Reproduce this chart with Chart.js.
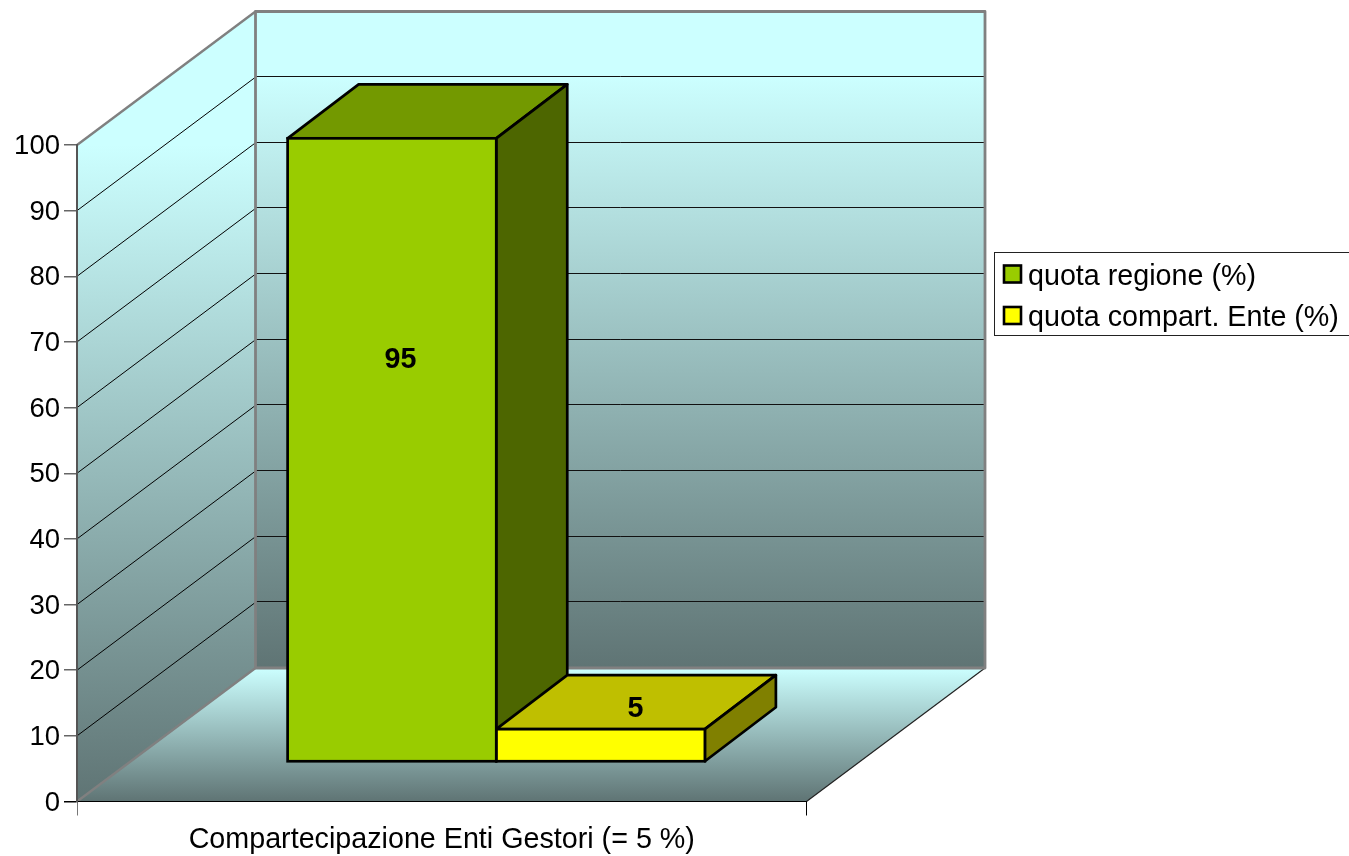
<!DOCTYPE html>
<html>
<head>
<meta charset="utf-8">
<title>Compartecipazione Enti Gestori</title>
<style>
html, body { margin: 0; padding: 0; background: #fff; overflow: hidden; }
canvas { display: block; }
</style>
<script src="https://cdn.jsdelivr.net/npm/chart.js@4/dist/chart.umd.min.js"></script>
</head>
<body>
<canvas id="mainChart" width="1349" height="856"></canvas>
<script>
var categories = ['Compartecipazione Enti Gestori (= 5 %)'];
var seriesNames = ['quota regione (%)', 'quota compart. Ente (%)'];
var quotaRegione = [95];
var quotaEnte = [5];
var yTicks = [0, 10, 20, 30, 40, 50, 60, 70, 80, 90, 100];

var fontName = '"Liberation Sans", Arial, sans-serif';
var fontSize = 28.7;
var lightWall = '#ccffff';
var darkWall = '#5f7474';
var wallEdge = '#808080';

// wall depth of the fake 3D box, and how far into it the bars stand
var wallDx = 178.5, wallDy = -133.5;
var barDx = 54.5, barDy = -39.5;
var capDx = 71, capDy = -54;
var barStroke = 2.7;

var fronts = ['#99cc00', '#ffff00'];
var tops = ['#739900', '#bfbf00'];
var sides = ['#4d6600', '#808000'];
var labelShift = [[8.5, 222], [35, -20]];

var poly = function(ctx, pts, fill, stroke, width) {
    ctx.beginPath();
    pts.forEach(function(p, i) {
        if (i === 0) ctx.moveTo(p[0], p[1]);
        else ctx.lineTo(p[0], p[1]);
    });
    ctx.closePath();
    if (fill) {
        ctx.fillStyle = fill;
        ctx.fill();
    }
    if (stroke) {
        ctx.strokeStyle = stroke;
        ctx.lineWidth = width;
        ctx.lineJoin = 'round';
        ctx.stroke();
    }
};

var line = function(ctx, x1, y1, x2, y2, color, width) {
    ctx.beginPath();
    ctx.moveTo(x1, y1);
    ctx.lineTo(x2, y2);
    ctx.strokeStyle = color;
    ctx.lineWidth = width;
    ctx.stroke();
};

var wallGradient = function(ctx, y1, y2) {
    var g = ctx.createLinearGradient(0, y1, 0, y2);
    g.addColorStop(0, lightWall);
    g.addColorStop(1, darkWall);
    return g;
};

// Back wall, side wall and floor, with the grid lines taken from the y scale
var boxPlugin = {
    id: 'box3d',
    beforeDraw: function(chart) {
        var ctx = chart.ctx;
        var area = chart.chartArea;
        var scale = chart.scales.y;
        var l = area.left, r = area.right, t = area.top, b = area.bottom;
        var backL = l + wallDx, backR = r + wallDx;
        var backB = b + wallDy, backT = t + wallDy;

        ctx.save();
        poly(ctx, [[backL, backT], [backR, backT], [backR, backB], [backL, backB]], wallGradient(ctx, backT + 65, backB));
        poly(ctx, [[l, t], [backL, backT], [backL, backB], [l, b]], wallGradient(ctx, t, b));
        poly(ctx, [[backL, backB], [backR, backB], [r, b], [l, b]], wallGradient(ctx, backB, b));

        yTicks.forEach(function(v) {
            if (v === 0 || v === 100) return;
            var y = scale.getPixelForValue(v);
            line(ctx, l, y, backL, y + wallDy, '#000', 1);
            var backY = Math.floor(y + wallDy - 0.5) + 0.5;
            line(ctx, backL, backY, backR, backY, '#111', 1);
        });

        line(ctx, backR, backB, r, b, '#222', 1.2);
        line(ctx, l, t, backL, backT, wallEdge, 2.4);
        line(ctx, l, b, backL, backB, wallEdge, 2.4);
        poly(ctx, [[backL, backT], [backR, backT], [backR, backB], [backL, backB]], null, wallEdge, 2.8);
        ctx.restore();
    },
    // tops and sides go first, first series underneath the second
    beforeDatasetsDraw: function(chart) {
        var ctx = chart.ctx;
        ctx.save();
        ctx.translate(barDx, barDy);
        chart.data.datasets.forEach(function(ds, i) {
            chart.getDatasetMeta(i).data.forEach(function(bar) {
                var p = bar.getProps(['x', 'y', 'base', 'width'], true);
                var x1 = p.x - p.width / 2, x2 = p.x + p.width / 2;
                poly(ctx, [[x1, p.y], [x1 + capDx, p.y + capDy], [x2 + capDx, p.y + capDy], [x2, p.y]], tops[i], '#000', barStroke);
                poly(ctx, [[x2, p.y], [x2 + capDx, p.y + capDy], [x2 + capDx, p.base + capDy], [x2, p.base]], sides[i], '#000', barStroke);
            });
        });
        ctx.restore();
    },
    // the library fills the front of each bar, pushed into the box
    beforeDatasetDraw: function(chart) {
        chart.ctx.save();
        chart.ctx.translate(barDx, barDy);
    },
    afterDatasetDraw: function(chart, args) {
        var ctx = chart.ctx;
        args.meta.data.forEach(function(bar) {
            var p = bar.getProps(['x', 'y', 'base', 'width'], true);
            ctx.strokeStyle = '#000';
            ctx.lineWidth = barStroke;
            ctx.strokeRect(p.x - p.width / 2, p.y, p.width, p.base - p.y);
        });
        ctx.restore();
    },
    afterDraw: function(chart) {
        var ctx = chart.ctx;
        ctx.save();
        // value labels
        ctx.fillStyle = '#000';
        ctx.font = 'bold ' + fontSize + 'px ' + fontName;
        ctx.textAlign = 'center';
        ctx.textBaseline = 'middle';
        chart.data.datasets.forEach(function(ds, i) {
            var bar = chart.getDatasetMeta(i).data[0];
            var p = bar.getProps(['x', 'y'], true);
            ctx.fillText(ds.data[0], p.x + barDx + labelShift[i][0], p.y + barDy + labelShift[i][1]);
        });
        // legend box, runs off the right edge like the original
        ctx.fillStyle = '#fff';
        ctx.fillRect(994.5, 252.5, 360, 83);
        ctx.strokeStyle = '#222';
        ctx.lineWidth = 1;
        ctx.strokeRect(994.5, 252.5, 360, 83);
        ctx.font = fontSize + 'px ' + fontName;
        ctx.textAlign = 'left';
        seriesNames.forEach(function(name, i) {
            var top = 265.5 + i * 41.5;
            ctx.fillStyle = fronts[i];
            ctx.fillRect(1004, top, 17, 17);
            ctx.strokeStyle = '#000';
            ctx.lineWidth = 2.6;
            ctx.strokeRect(1004, top, 17, 17);
            ctx.fillStyle = '#000';
            ctx.fillText(name, 1028, top + 11.5);
        });
        ctx.restore();
    }
};

var chartContainer = document.getElementById('mainChart');
var mainChart = new Chart(chartContainer, {
    type: 'bar',
    data: {
        labels: categories,
        datasets: [
            {
                label: seriesNames[0],
                data: quotaRegione,
                backgroundColor: fronts[0],
                borderWidth: 0,
                inflateAmount: 0,
                clip: false
            },
            {
                label: seriesNames[1],
                data: quotaEnte,
                backgroundColor: fronts[1],
                borderWidth: 0,
                inflateAmount: 0,
                clip: false
            }
        ]
    },
    options: {
        responsive: false,
        animation: false,
        layout: { padding: { left: 0, top: 145, right: 542.5, bottom: 0 } },
        datasets: { bar: { barPercentage: 1, categoryPercentage: 0.572 } },
        plugins: { legend: { display: false }, tooltip: { enabled: false } },
        scales: {
            x: {
                grid: {
                    drawOnChartArea: false,
                    tickLength: 14,
                    lineWidth: 1,
                    color: function(c) { return c.index === 0 ? '#777' : '#000'; }
                },
                border: { color: '#000', width: 1 },
                ticks: { color: '#000', padding: 7, font: { family: fontName, size: fontSize }, maxRotation: 0 },
                afterFit: function(axis) { axis.height = 54.5; }
            },
            y: {
                min: 0,
                max: 100,
                grid: {
                    drawOnChartArea: false,
                    tickLength: 13,
                    lineWidth: 1.5,
                    color: function(c) { return c.tick && c.tick.value === 0 ? '#000' : '#666'; }
                },
                border: { color: '#555', width: 2 },
                ticks: {
                    stepSize: 10,
                    color: '#000',
                    padding: 4,
                    labelOffset: 1.5,
                    font: { family: fontName, size: 27.5 }
                },
                afterFit: function(axis) { axis.width = 77; }
            }
        }
    },
    plugins: [boxPlugin]
});
</script>
</body>
</html>
